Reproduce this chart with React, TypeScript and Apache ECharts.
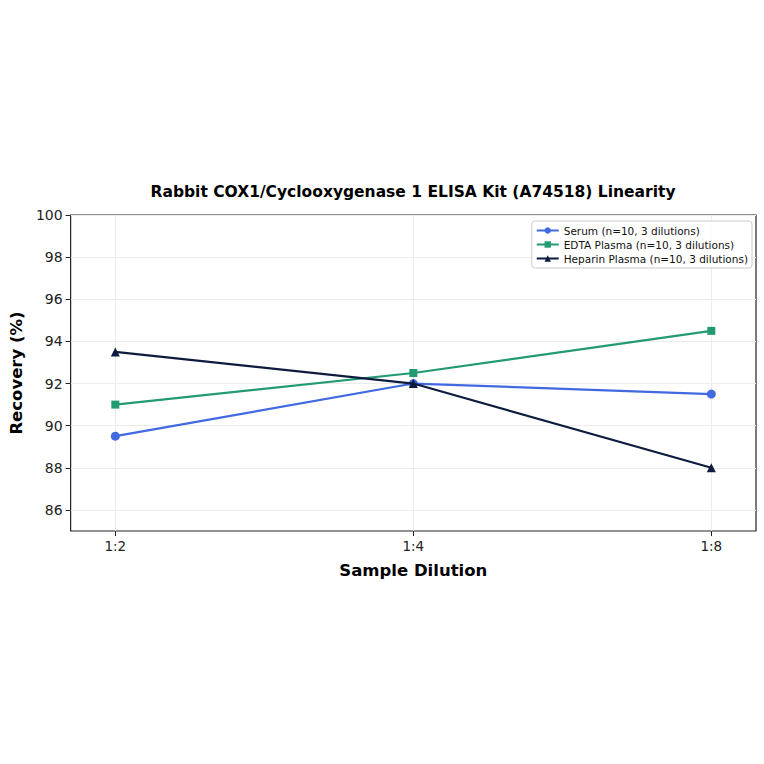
import * as echarts from "echarts";
import { useEffect, useRef } from "react";

const dilutions = ["1:2", "1:4", "1:8"];
const serum = [89.5, 92.0, 91.5];
const edtaPlasma = [91.0, 92.5, 94.5];
const heparinPlasma = [93.5, 92.0, 88.0];
const yTicks = [86, 88, 90, 92, 94, 96, 98, 100];

const FONT = "DejaVu Sans";

export default () => {
  const chartRef = useRef<HTMLDivElement>(null);
  useEffect(() => {
    if (!chartRef.current) return;
    const chart = echarts.init(chartRef.current, undefined, { renderer: "svg" });
    const toPoints = (vals: number[]) => vals.map((v, i) => [i, v]);
    chart.setOption({
      animation: false,
      backgroundColor: "#fff",
      textStyle: { fontFamily: FONT },
      title: {
        text: "Rabbit COX1/Cyclooxygenase 1 ELISA Kit (A74518) Linearity",
        left: 408,
        textAlign: "center",
        top: 179,
        textStyle: { fontSize: 15.5, fontWeight: "bold", color: "#000", fontFamily: FONT },
      },
      grid: {
        left: 70,
        right: 8,
        top: 215,
        bottom: 233,
        show: true,
        borderColor: "#222",
        borderWidth: 1.2,
        backgroundColor: "transparent",
      },
      legend: {
        orient: "vertical",
        right: 12,
        top: 221,
        itemWidth: 22,
        itemHeight: 8,
        itemGap: 3,
        padding: [4, 4, 4, 4],
        borderColor: "#ccc",
        borderWidth: 1,
        borderRadius: 3,
        backgroundColor: "rgba(255,255,255,0.85)",
        textStyle: { fontSize: 10.5, color: "#111", fontFamily: FONT },
        data: [
          "Serum (n=10, 3 dilutions)",
          "EDTA Plasma (n=10, 3 dilutions)",
          "Heparin Plasma (n=10, 3 dilutions)",
        ],
      },
      xAxis: {
        type: "value",
        min: -0.15,
        max: 2.15,
        name: "Sample Dilution",
        nameLocation: "middle",
        nameGap: 31,
        nameTextStyle: { fontSize: 16.5, fontWeight: "bold", color: "#000", fontFamily: FONT },
        axisLine: { show: false, onZero: false },
        axisTick: { show: true, length: 5, customValues: [0, 1, 2], lineStyle: { color: "#222" } },
        axisLabel: {
          customValues: [0, 1, 2],
          formatter: (v: number) => dilutions[Math.round(v)] ?? "",
          fontSize: 13.5,
          color: "#222",
          margin: 8,
          fontFamily: FONT,
        },
        splitLine: { show: true, lineStyle: { color: "#ececec", width: 1 } },
      },
      yAxis: {
        type: "value",
        min: 85,
        max: 100,
        name: "Recovery (%)",
        nameLocation: "middle",
        nameGap: 42,
        nameTextStyle: { fontSize: 16.5, fontWeight: "bold", color: "#000", fontFamily: FONT },
        axisLine: { show: false, onZero: false },
        axisTick: { show: true, length: 5, customValues: yTicks, lineStyle: { color: "#222" } },
        axisLabel: {
          customValues: yTicks,
          fontSize: 14,
          color: "#222",
          margin: 8,
          fontFamily: FONT,
        },
        splitLine: { show: true, lineStyle: { color: "#ececec", width: 1 } },
      },
      series: [
        {
          name: "Serum (n=10, 3 dilutions)",
          type: "line",
          data: toPoints(serum),
          symbol: "circle",
          symbolSize: 9,
          lineStyle: { width: 2.2, color: "#4169e1" },
          itemStyle: { color: "#4169e1" },
          z: 3,
        },
        {
          name: "EDTA Plasma (n=10, 3 dilutions)",
          type: "line",
          data: toPoints(edtaPlasma),
          symbol: "rect",
          symbolSize: 8,
          lineStyle: { width: 2.2, color: "#229a72" },
          itemStyle: { color: "#229a72" },
          z: 4,
        },
        {
          name: "Heparin Plasma (n=10, 3 dilutions)",
          type: "line",
          data: toPoints(heparinPlasma),
          symbol: "triangle",
          symbolSize: 9,
          lineStyle: { width: 2.2, color: "#0d1b3e" },
          itemStyle: { color: "#0d1b3e" },
          z: 5,
        },
      ],
    });
    return () => chart.dispose();
  }, []);

  return (
    <div
      ref={chartRef}
      style={{ position: "fixed", left: 0, top: 0, width: 764, height: 764 }}
    ></div>
  );
};
